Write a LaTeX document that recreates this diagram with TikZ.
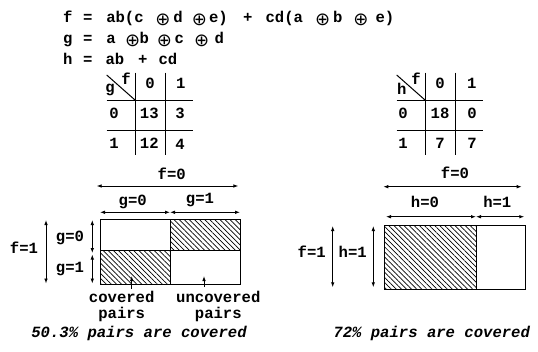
\documentclass[tikz,border=0pt]{standalone}
\usepackage{fontspec}
\setmainfont{Liberation Mono}
\newfontfamily\symfont{DejaVu Sans}
\usetikzlibrary{arrows.meta,patterns.meta}
\newcommand\putc[2]{\rlap{\hspace*{#1pt}\makebox[0pt]{#2}}}
\newcommand\ox{\makebox[0pt]{\raisebox{-3.3pt}{\symfont\mdseries\fontsize{18}{20}\selectfont ⊕}}}
\begin{document}
\begin{tikzpicture}[x=1pt,y=-1pt,
  font=\fontsize{15.6}{18}\selectfont\bfseries,
  line width=1pt,
  >={Latex[length=5pt,width=3.6pt]},
  lbl/.style={inner sep=0pt,anchor=mid},
  eqline/.style={inner sep=0pt,anchor=base west},
  dim/.style={<->,line width=0.9pt},
  ptr/.style={->,line width=0.9pt},
  rule/.style={line width=1pt},
  hatch/.style={pattern={Lines[angle=-45,distance=3.6pt,line width=0.7pt]}},
  note/.style={inner sep=0pt,anchor=mid,font=\fontsize{15.6}{18}\selectfont\bfseries\itshape}]
\useasboundingbox (0,0) rectangle (538,351);

% equations
\node[eqline] (eqf) at (0,22) {\putc{66.7}{f}\putc{86.7}{=}\putc{124}{ab(c}\putc{162}{\ox}\putc{177}{d}\putc{198.3}{\ox}\putc{217.5}{e)}\putc{246.7}{+}\putc{283.3}{cd(a}\putc{321.7}{\ox}\putc{336.7}{b}\putc{360}{\ox}\putc{384}{e)}};
\node[eqline] (eqg) at (0,43) {\putc{66.7}{g}\putc{86.7}{=}\putc{110}{a}\putc{131.7}{\ox}\putc{143.3}{b}\putc{163.3}{\ox}\putc{178.3}{c}\putc{200.7}{\ox}\putc{218.3}{d}};
\node[eqline] (eqh) at (0,64) {\putc{66.7}{h}\putc{86.7}{=}\putc{114}{ab}\putc{141.7}{+}\putc{167}{cd}};

% left table
\draw[rule] (106.7,75) -- (135,100);
\draw[rule] (135,72.7) -- (135,155);
\draw[rule] (165,72.7) -- (165,155);
\draw[rule] (106.7,100) -- (193,100);
\draw[rule] (106.7,130.7) -- (193,130.7);
\node[lbl] (lf) at (126,82) {f};
\node[lbl] (lg) at (110,90.3) {g};
\node[lbl] (lc0) at (150,85.5) {0};
\node[lbl] (lc1) at (180.7,85.5) {1};
\node[lbl] (lr0) at (114,115.8) {0};
\node[lbl] (l00) at (149.3,115.8) {13};
\node[lbl] (l01) at (180,115.8) {3};
\node[lbl] (lr1) at (114,145.5) {1};
\node[lbl] (l10) at (149.3,145.5) {12};
\node[lbl] (l11) at (180,146.5) {4};

% right table
\draw[rule] (396.7,75) -- (425,100);
\draw[rule] (425,72.7) -- (425,155);
\draw[rule] (455,72.7) -- (455,155);
\draw[rule] (396.7,100) -- (483,100);
\draw[rule] (396.7,130.7) -- (483,130.7);
\node[lbl] (rf) at (416,82) {f};
\node[lbl] (rh) at (401.7,91.5) {h};
\node[lbl] (rc0) at (440,85.5) {0};
\node[lbl] (rc1) at (471.7,85.5) {1};
\node[lbl] (rr0) at (403,115.8) {0};
\node[lbl] (r00) at (440,115.8) {18};
\node[lbl] (r01) at (472,115.8) {0};
\node[lbl] (rr1) at (403,145.5) {1};
\node[lbl] (r10) at (440,145.5) {7};
\node[lbl] (r11) at (472,145.5) {7};

% left diagram
\node[lbl] (lf0) at (171.7,176.7) {f=0};
\draw[dim] (96.7,186) -- (238.3,186);
\node[lbl] (lg0t) at (132.7,203.3) {g=0};
\node[lbl] (lg1t) at (200,201.3) {g=1};
\draw[dim] (100,212.3) -- (170,212.3);
\draw[dim] (170,212.3) -- (240,212.3);
\fill[hatch] (170,219.5) rectangle (240,250);
\fill[hatch] (100,250) rectangle (170,284);
\draw[rule] (100,219.5) rectangle (240,284);
\draw[rule] (170,219.5) -- (170,284);
\draw[rule] (100,250) -- (240,250);
\node[lbl] (lf1) at (24,250.5) {f=1};
\draw[dim] (46,220) -- (46,283.5);
\node[lbl] (lg0s) at (70,239) {g=0};
\node[lbl] (lg1s) at (70,270) {g=1};
\draw[dim] (92.3,220) -- (92.3,253);
\draw[dim] (92.3,254.5) -- (92.3,283.5);
\coordinate (covtip) at (131.7,276);
\coordinate (uncovtip) at (204,276);
\draw[ptr] (131.7,288.5) -- (covtip);
\draw[ptr] (204,287) -- (uncovtip);
\node[lbl] (cov) at (121.7,299.7) {covered};
\node[lbl] (covp) at (121.7,316.3) {pairs};
\node[lbl] (uncov) at (218.3,299.7) {uncovered};
\node[lbl] (uncovp) at (218.3,316.3) {pairs};
\node[note] (lnote) at (139,335.3) {50.3\% pairs are covered};

% right diagram
\node[lbl] (rf0) at (455,176) {f=0};
\draw[dim] (383.3,186.7) -- (521.7,186.7);
\node[lbl] (rh0t) at (425,204.7) {h=0};
\node[lbl] (rh1t) at (497.3,204.7) {h=1};
\draw[dim] (386,216.7) -- (476,216.7);
\draw[dim] (476,216.7) -- (524.3,216.7);
\fill[hatch] (384,225) rectangle (476,289.3);
\draw[rule] (384,225) rectangle (525.7,289.3);
\draw[rule] (476,225) -- (476,289.3);
\node[lbl] (rf1) at (311.7,254.7) {f=1};
\draw[dim] (332.7,226) -- (332.7,287.3);
\node[lbl] (rh1s) at (352.7,254.7) {h=1};
\draw[dim] (373.3,226) -- (373.3,287.3);
\node[note] (rnote) at (431.7,335) {72\% pairs are covered};
\end{tikzpicture}
\end{document}
